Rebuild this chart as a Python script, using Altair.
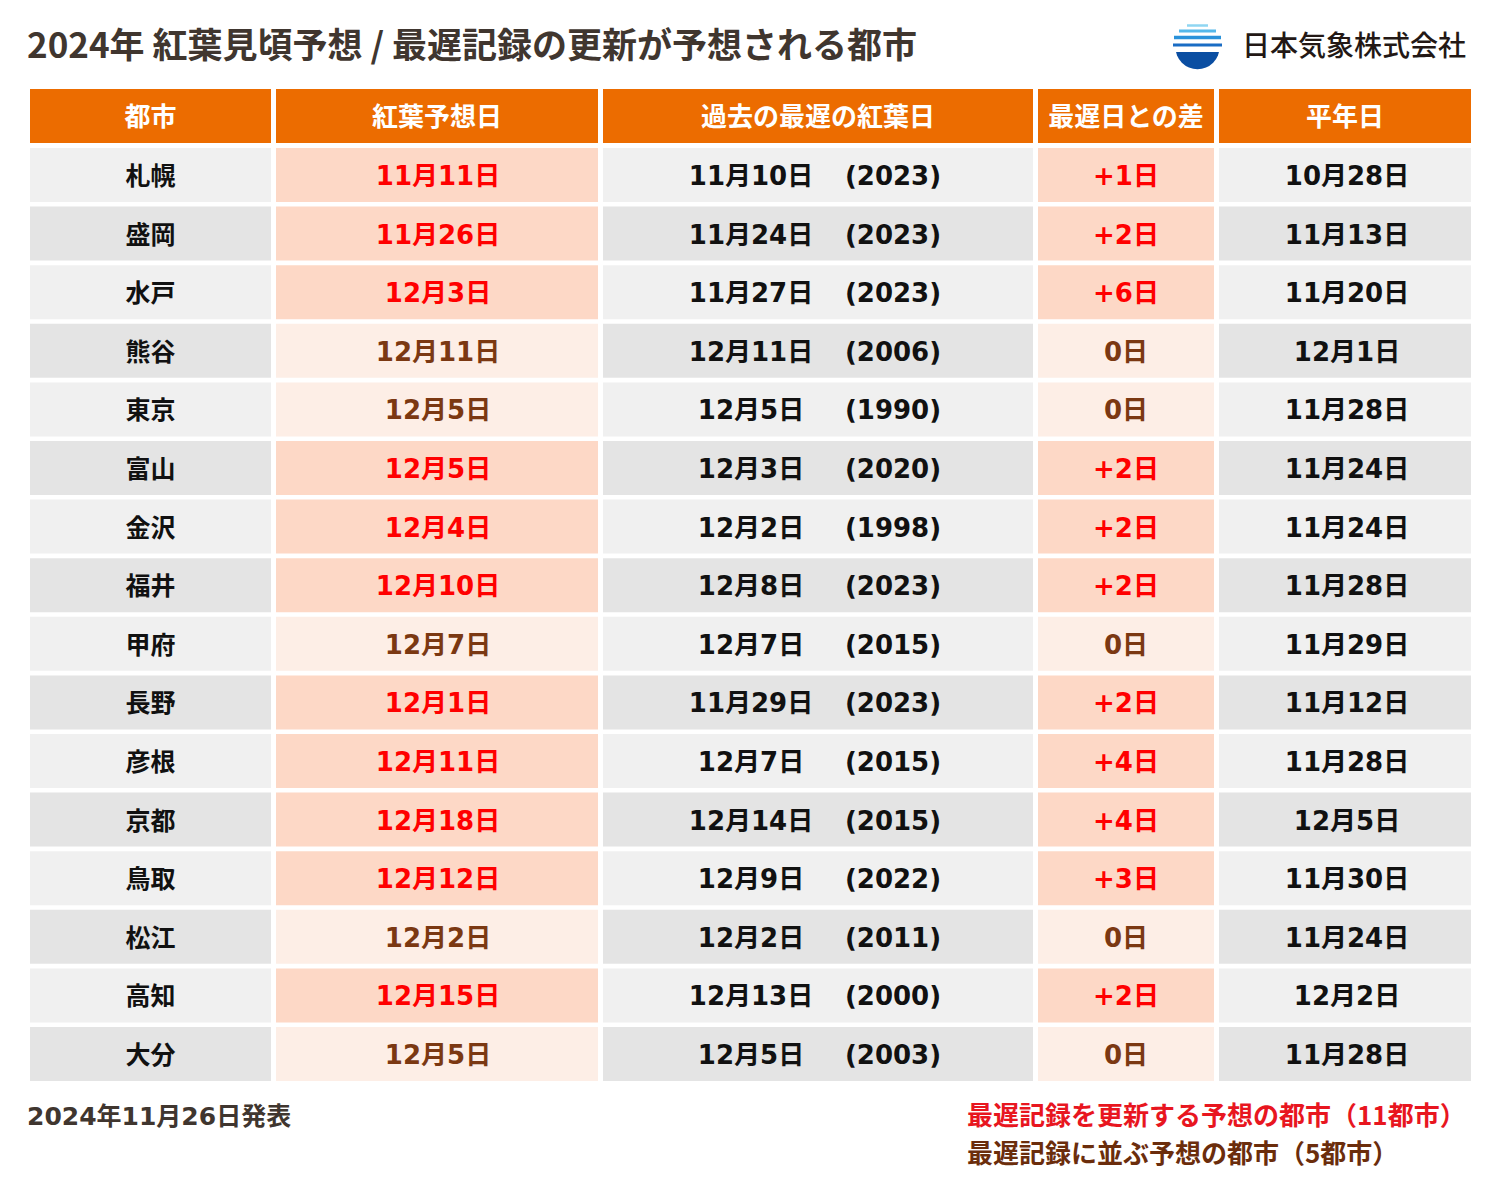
import altair as alt
import pandas as pd

# ---------------- data ----------------
title_text = "2024年 紅葉見頃予想 / 最遅記録の更新が予想される都市"
company = "日本気象株式会社"
issued = "2024年11月26日発表"
legend_updated = "最遅記録を更新する予想の都市（11都市）"
legend_tied = "最遅記録に並ぶ予想の都市（5都市）"

headers = ["都市", "紅葉予想日", "過去の最遅の紅葉日", "最遅日との差", "平年日"]
cities = ["札幌", "盛岡", "水戸", "熊谷", "東京", "富山", "金沢", "福井",
          "甲府", "長野", "彦根", "京都", "鳥取", "松江", "高知", "大分"]
forecast = ["11月11日", "11月26日", "12月3日", "12月11日", "12月5日", "12月5日",
            "12月4日", "12月10日", "12月7日", "12月1日", "12月11日", "12月18日",
            "12月12日", "12月2日", "12月15日", "12月5日"]
latest_date = ["11月10日", "11月24日", "11月27日", "12月11日", "12月5日", "12月3日",
               "12月2日", "12月8日", "12月7日", "11月29日", "12月7日", "12月14日",
               "12月9日", "12月2日", "12月13日", "12月5日"]
latest_year = ["2023", "2023", "2023", "2006", "1990", "2020", "1998", "2023",
               "2015", "2023", "2015", "2015", "2022", "2011", "2000", "2003"]
diff_days = [1, 2, 6, 0, 0, 2, 2, 2, 0, 2, 4, 4, 3, 0, 2, 0]
normal = ["10月28日", "11月13日", "11月20日", "12月1日", "11月28日", "11月24日",
          "11月24日", "11月28日", "11月29日", "11月12日", "11月28日", "12月5日",
          "11月30日", "11月24日", "12月2日", "11月28日"]

# ---------------- layout / styles ----------------
W, H = 1484, 1180
XS = alt.Scale(domain=[8, 8 + W], range=[0, W], zero=False, nice=False)
YS = alt.Scale(domain=[8, 8 + H], range=[0, H], zero=False, nice=False)

col_edges = [(30, 271), (276, 598), (603, 1033), (1038, 1214), (1219, 1471)]
head_top, head_bot = 89, 143
row_top0, row_pitch, row_h = 148, 58.6, 54

ORANGE = "#ec6c00"
GRAY_A, GRAY_B = "#f0f0f0", "#e4e4e4"
PINK_UP, PINK_TIE = "#fdd8c6", "#fdeee6"
RED_TXT, BROWN_TXT = "#ff0000", "#7b3812"
DARK = "#111111"
TITLE_COL = "#40362f"
JP = "Noto Sans CJK JP"
NUM = "DejaVu Sans, Noto Sans CJK JP"

rects = []
for j, (a, b) in enumerate(col_edges):
    rects.append(dict(x=a, x2=b, y=head_top, y2=head_bot, fill=ORANGE))
for i in range(len(cities)):
    t = row_top0 + i * row_pitch
    gray = GRAY_A if i % 2 == 0 else GRAY_B
    up = diff_days[i] > 0
    pink = PINK_UP if up else PINK_TIE
    for j, (a, b) in enumerate(col_edges):
        fill = pink if j in (1, 3) else gray
        rects.append(dict(x=a, x2=b, y=t, y2=t + row_h, fill=fill))
rect_df = pd.DataFrame(rects)

rect_layer = alt.Chart(rect_df).mark_rect().encode(
    x=alt.X("x:Q", scale=XS, axis=None), x2="x2:Q",
    y=alt.Y("y:Q", scale=YS, axis=None), y2="y2:Q",
    fill=alt.Fill("fill:N", scale=None),
)

def center(j):
    return (col_edges[j][0] + col_edges[j][1]) / 2

head_df = pd.DataFrame(dict(x=[center(j) for j in range(5)],
                            y=[(head_top + head_bot) / 2 + 1.5] * 5, t=headers))
head_layer = alt.Chart(head_df).mark_text(
    font=JP, fontSize=26, fontWeight="bold", color="white", baseline="middle", align="center"
).encode(x=alt.X("x:Q", scale=XS, axis=None), y=alt.Y("y:Q", scale=YS, axis=None), text="t:N")

city_rows, num_rows = [], []
for i in range(len(cities)):
    yc = row_top0 + i * row_pitch + row_h / 2 + 2
    up = diff_days[i] > 0
    tc = RED_TXT if up else BROWN_TXT
    city_rows.append(dict(x=center(0), y=yc, t=cities[i]))
    num_rows.append(dict(x=center(1) + 1, y=yc, t=forecast[i], c=tc))
    num_rows.append(dict(x=751, y=yc, t=latest_date[i], c=DARK))
    num_rows.append(dict(x=893, y=yc, t="(" + latest_year[i] + ")", c=DARK))
    num_rows.append(dict(x=center(3), y=yc,
                         t=("+" + str(diff_days[i]) if up else str(diff_days[i])) + "日", c=tc))
    num_rows.append(dict(x=center(4) + 2, y=yc, t=normal[i], c=DARK))

city_layer = alt.Chart(pd.DataFrame(city_rows)).mark_text(
    font=JP, fontSize=25, fontWeight="bold", color=DARK, baseline="middle", align="center"
).encode(x=alt.X("x:Q", scale=XS, axis=None), y=alt.Y("y:Q", scale=YS, axis=None), text="t:N")

num_layer = alt.Chart(pd.DataFrame(num_rows)).mark_text(
    font=NUM, fontSize=26, fontWeight="bold", baseline="middle", align="center"
).encode(x=alt.X("x:Q", scale=XS, axis=None), y=alt.Y("y:Q", scale=YS, axis=None),
         text="t:N", color=alt.Color("c:N", scale=None))

# ---------------- titles / notes ----------------
notes = [
    dict(x=27, y=47, t=title_text, c=TITLE_COL, s=35, f=JP),
    dict(x=27, y=1117, t=issued, c=TITLE_COL, s=25, f=NUM),
    dict(x=967, y=1117, t=legend_updated, c="#e8161f", s=26, f=JP),
    dict(x=967, y=1155, t=legend_tied, c="#6b2d0c", s=26, f=JP),
]
text_layers = []
for r in notes:
    text_layers.append(
        alt.Chart(pd.DataFrame([r])).mark_text(
            font=r["f"], fontSize=r["s"], fontWeight="bold", baseline="middle", align="left", color=r["c"]
        ).encode(x=alt.X("x:Q", scale=XS, axis=None), y=alt.Y("y:Q", scale=YS, axis=None), text="t:N")
    )

# ---------------- logo ----------------
logo_disc = alt.Chart(pd.DataFrame([dict(x=1197.5, y=47)])).mark_point(
    shape="circle", filled=True, size=1960, color="#0a4ea2", opacity=1
).encode(x=alt.X("x:Q", scale=XS, axis=None), y=alt.Y("y:Q", scale=YS, axis=None))
logo_mask = alt.Chart(pd.DataFrame([dict(x=1168, x2=1228, y=18, y2=52)])).mark_rect(color="white").encode(
    x=alt.X("x:Q", scale=XS, axis=None), x2="x2:Q", y=alt.Y("y:Q", scale=YS, axis=None), y2="y2:Q")
stripes = pd.DataFrame([
    dict(x=1187, x2=1208, y=25.5, c="#8fd6f2", w=2.5),
    dict(x=1179, x2=1216, y=31, c="#55b8ea", w=3),
    dict(x=1174, x2=1221, y=37.5, c="#2a92da", w=3.5),
    dict(x=1173, x2=1222, y=45, c="#1a6cc4", w=3),
])
logo_stripes = alt.Chart(stripes).mark_rule().encode(
    x=alt.X("x:Q", scale=XS, axis=None), x2="x2:Q", y=alt.Y("y:Q", scale=YS, axis=None),
    color=alt.Color("c:N", scale=None), strokeWidth=alt.StrokeWidth("w:Q", scale=None))
logo_text = alt.Chart(pd.DataFrame([dict(x=1354, y=48, t=company)])).mark_text(
    font=JP, fontSize=28, fontWeight=500, color="#231815", baseline="middle", align="center"
).encode(x=alt.X("x:Q", scale=XS, axis=None), y=alt.Y("y:Q", scale=YS, axis=None), text="t:N")

chart = alt.layer(
    rect_layer, head_layer, city_layer, num_layer, *text_layers,
    logo_disc, logo_mask, logo_stripes, logo_text
).properties(
    width=W, height=H, padding=0, autosize=alt.AutoSizeParams(type="none"), background="white"
).configure_view(strokeWidth=0)

chart.save("out.html", embed_options={"renderer": "svg", "actions": False})
